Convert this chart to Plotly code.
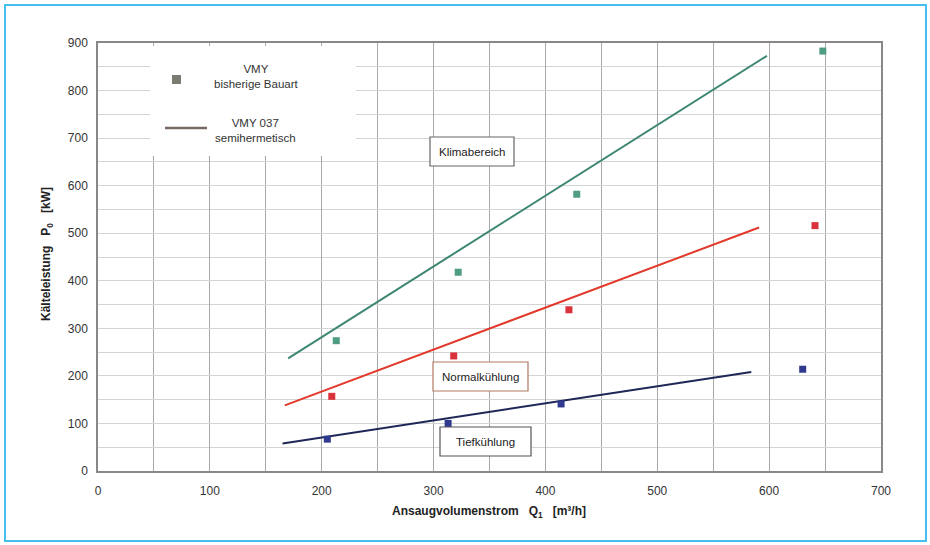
import plotly.graph_objects as go

# Measured points (VMY bisherige Bauart)
klima_x = [213, 322, 428, 648]
klima_y = [274, 418, 582, 883]
normal_x = [209, 318, 421, 641]
normal_y = [157, 242, 339, 516]
tief_x = [205, 313, 414, 630]
tief_y = [67, 100, 141, 214]

# Lines (VMY 037 semihermetisch)
klima_line_x = [170, 598]
klima_line_y = [237, 873]
normal_line_x = [167, 591]
normal_line_y = [138, 512]
tief_line_x = [165, 584]
tief_line_y = [58, 208]

x_ticks = [0, 100, 200, 300, 400, 500, 600, 700]
y_ticks = [0, 100, 200, 300, 400, 500, 600, 700, 800, 900]

GREEN_L = "#3d8673"
GREEN_M = "#4f9c84"
RED_L = "#e2392b"
RED_M = "#d9323a"
BLUE_L = "#1f2756"
BLUE_M = "#2f3a8e"

fig = go.Figure()
for lx, ly, col in [(klima_line_x, klima_line_y, GREEN_L),
                    (normal_line_x, normal_line_y, RED_L),
                    (tief_line_x, tief_line_y, BLUE_L)]:
    fig.add_trace(go.Scatter(x=lx, y=ly, mode="lines",
                             line=dict(color=col, width=2), showlegend=False))
for px, py, col in [(klima_x, klima_y, GREEN_M),
                    (normal_x, normal_y, RED_M),
                    (tief_x, tief_y, BLUE_M)]:
    fig.add_trace(go.Scatter(x=px, y=py, mode="markers",
                             marker=dict(symbol="square", size=7, color=col),
                             showlegend=False))

W, H = 930, 545
L, R, T, B = 98, 49, 43, 74
pw, ph = W - L - R, H - T - B


def px2x(p):
    return (p - L) / pw


def py2y(p):
    return (H - B - p) / ph


shapes = []
# outer light-blue frame
shapes.append(dict(type="rect", xref="paper", yref="paper",
                   x0=px2x(5), x1=px2x(926), y0=py2y(541), y1=py2y(5),
                   line=dict(color="#45c0ee", width=2), layer="below"))
# legend background
shapes.append(dict(type="rect", xref="paper", yref="paper",
                   x0=px2x(150), x1=px2x(356), y0=py2y(156), y1=py2y(46),
                   fillcolor="white", line=dict(width=0), layer="above"))
shapes.append(dict(type="rect", xref="paper", yref="paper",
                   x0=px2x(172), x1=px2x(181), y0=py2y(84), y1=py2y(75),
                   fillcolor="#7b7b73", line=dict(width=0), layer="above"))
shapes.append(dict(type="line", xref="paper", yref="paper",
                   x0=px2x(165), x1=px2x(207), y0=py2y(128), y1=py2y(128),
                   line=dict(color="#7a6865", width=2.5), layer="above"))
# annotation boxes
boxes = [
    (430, 514, 137, 166, "#666666"),
    (433, 528, 362, 391, "#b07a60"),
    (440, 531, 427, 456, "#555555"),
]
for x0, x1, y0, y1, c in boxes:
    shapes.append(dict(type="rect", xref="paper", yref="paper",
                       x0=px2x(x0), x1=px2x(x1), y0=py2y(y1), y1=py2y(y0),
                       fillcolor="white", line=dict(color=c, width=1.2),
                       layer="above"))

font = "Liberation Sans, Arial, sans-serif"
ann = []


def add_text(x, y, t, size, color="#222", angle=0):
    ann.append(dict(xref="paper", yref="paper", x=px2x(x), y=py2y(y),
                    xanchor="center", yanchor="middle", text=t,
                    showarrow=False, textangle=angle,
                    font=dict(family=font, size=size, color=color)))


add_text(472, 152, "Klimabereich", 11.5)
add_text(480, 377, "Normalkühlung", 11.5)
add_text(485, 442, "Tiefkühlung", 11.5)
add_text(256, 76, "VMY<br>bisherige Bauart", 11.5, "#333")
add_text(255, 130, "VMY 037<br>semihermetisch", 11.5, "#333")
add_text(489, 512, "<b>Ansaugvolumenstrom   Q<sub>1</sub>   [m³/h]</b>", 12)
add_text(47, 254, "<b>Kälteleistung   P<sub>0</sub>   [kW]</b>", 12, angle=-90)

fig.update_layout(
    width=W, height=H,
    margin=dict(l=L, r=R, t=T, b=B),
    paper_bgcolor="white", plot_bgcolor="white",
    shapes=shapes, annotations=ann,
    font=dict(family=font, size=12, color="#333"),
    hovermode=False,
)
fig.update_xaxes(range=[0, 700], tickvals=x_ticks, ticks="",
                 ticklabelstandoff=8,
                 showgrid=True, gridcolor="#a8a8a8", gridwidth=1,
                 minor=dict(dtick=50, showgrid=True, gridcolor="#a8a8a8", gridwidth=1),
                 showline=True, linecolor="#888", linewidth=1.5, mirror=True,
                 zeroline=False, tickfont=dict(size=12, color="#333"))
fig.update_yaxes(range=[0, 900], tickvals=y_ticks, ticks="",
                 ticklabelstandoff=6,
                 showgrid=True, gridcolor="#d4d4d4", gridwidth=1,
                 minor=dict(dtick=50, showgrid=True, gridcolor="#d4d4d4", gridwidth=1),
                 showline=True, linecolor="#888", linewidth=1.5, mirror=True,
                 zeroline=False, tickfont=dict(size=12, color="#333"))

fig.write_html("out.html", config={"displayModeBar": False},
               post_script="document.body.style.margin='0';"
                           "document.body.style.overflow='hidden';")
